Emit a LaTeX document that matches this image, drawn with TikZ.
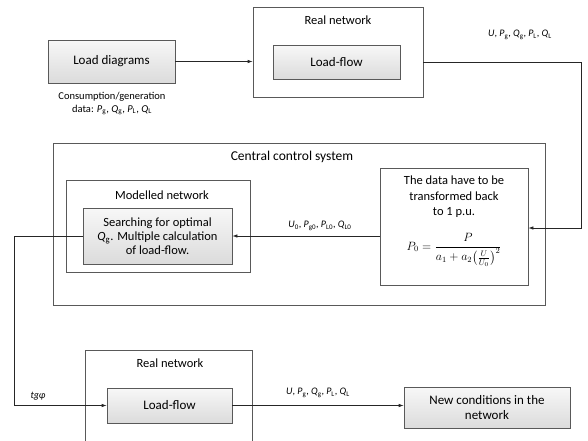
\documentclass[tikz,border=0pt]{standalone}
\usepackage{amsmath}
\usepackage{fontspec}
\setmainfont{Carlito}
\usetikzlibrary{arrows.meta,shadows}
\newcommand{\qty}[2]{\textit{#1}\textsubscript{#2}}

\begin{document}
\begin{tikzpicture}[x=1pt,y=-1pt,
    frame/.style={draw=gray!70!black,line width=0.7pt,inner sep=0pt},
    shadebox/.style={frame,top color=gray!6,bottom color=gray!28,
      drop shadow={shadow xshift=1pt,shadow yshift=-1pt,opacity=0.25},
      align=center,font=\fontsize{13}{15}\selectfont},
    lbl/.style={font=\fontsize{10}{12}\selectfont,inner sep=0pt},
    ttl/.style={font=\fontsize{12.5}{14.5}\selectfont,inner sep=0pt},
    link/.style={draw=gray!30!black,line width=0.7pt},
    arr/.style={link,-{Latex[length=5pt,width=3.5pt]}}]
        \useasboundingbox (0,0) rectangle (588,440);
        \clip (0,0) rectangle (588,440);
        %% top part
        \node[shadebox,minimum width=127pt,minimum height=43pt] (load) at (111.5,61.5) {Load diagrams};
        \node[lbl,align=center,font=\fontsize{10.5}{12}\selectfont] (loadcap) at (112,103.5) {Consumption/generation\\[1pt] data: \qty{P}{g}, \qty{Q}{g}, \qty{P}{L}, \qty{Q}{L}};
        \node[frame,minimum width=170pt,minimum height=90pt] (realtop) at (338,52) {};
        \node[ttl] (realtoptitle) at (338,20) {Real network};
        \node[shadebox,minimum width=127pt,minimum height=34pt] (lftop) at (336.5,62) {Load-flow};
        \node[lbl] (toplbl) at (520,35) {\textit{U}, \qty{P}{g}, \qty{Q}{g}, \qty{P}{L}, \qty{Q}{L}};
        %% central control system
        \node[frame,minimum width=492pt,minimum height=162pt] (central) at (299,224) {};
        \node[ttl,font=\fontsize{13.5}{15}\selectfont] (centraltitle) at (292,157) {Central control system};
        \node[frame,minimum width=184pt,minimum height=92pt] (modelled) at (158,226) {};
        \node[ttl] (modelledtitle) at (162,195) {Modelled network};
        \node[shadebox,minimum width=149pt,minimum height=56pt,font=\fontsize{12.5}{14}\selectfont] (search) at (157.5,236)
          {Searching for optimal\\ \qty{Q}{g}. Multiple calculation\\ of load-flow.};
        \node[frame,fill=white,minimum width=148pt,minimum height=117pt] (transf) at (454,226.5) {};
        \node[ttl,align=center,font=\fontsize{12.5}{15.5}\selectfont] (transftext) at (454,197) {The data have to be\\ transformed back\\ to 1 p.u.};
        \node[inner sep=0pt,font=\fontsize{11.5}{14}\selectfont] (formula) at (454,250) {$P_0=\dfrac{P}{a_1+a_2\bigl(\tfrac{U}{U_0}\bigr)^{2}}$};
        \node[lbl] (midlbl) at (320,226) {\qty{U}{0}, \qty{P}{g0}, \qty{P}{L0}, \qty{Q}{L0}};
        %% bottom part
        \node[frame,minimum width=167pt,minimum height=95pt] (realbot) at (168.5,397.5) {};
        \node[ttl] (realbottitle) at (170,363) {Real network};
        \node[shadebox,minimum width=125pt,minimum height=35pt] (lfbot) at (169.5,405.5) {Load-flow};
        \node[shadebox,minimum width=166pt,minimum height=41pt] (newcond) at (487,407.5) {New conditions in the\\ network};
        \node[lbl] (tglbl) at (38,396) {\textit{tgφ}};
        \node[lbl] (botlbl) at (318,393) {\textit{U}, \qty{P}{g}, \qty{Q}{g}, \qty{P}{L}, \qty{Q}{L}};
        %% connectors
        \coordinate (corner1) at (581,62);
        \coordinate (corner2) at (14,236);
        \draw[arr] (load.east) -- (load.east -| realtop.west);
        \draw[arr] (realtop.east |- lftop.east) -- (corner1) |- (transf.east |- 0,228);
        \draw[arr] (transf.west |- search.east) -- (search.east);
        \draw[arr] (search.west) -- (corner2) |- (lfbot.west);
        \draw[arr] (lfbot.east) -- (lfbot.east -| newcond.west);
\end{tikzpicture}
\end{document}
